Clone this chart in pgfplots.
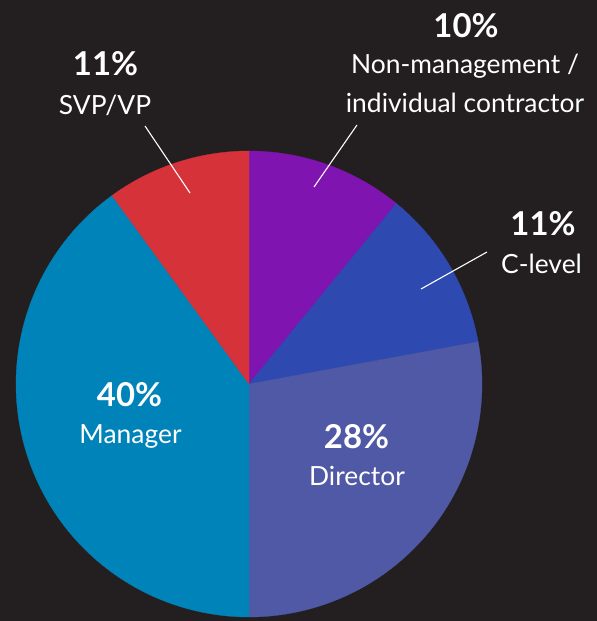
\documentclass[border=0pt]{standalone}
\usepackage{fontspec}
\setmainfont{Lato}
\usepackage{pgfplots}
\usepackage{pgfplotstable}
\pgfplotsset{compat=1.18}

\definecolor{bg}{HTML}{231F20}
\definecolor{cNon}{HTML}{7F14B0}
\definecolor{cClev}{HTML}{2E4AB0}
\definecolor{cDir}{HTML}{5059A6}
\definecolor{cMan}{HTML}{0083B9}
\definecolor{cSvp}{HTML}{D6323A}

% share of the circle, clockwise from 12 o'clock
\pgfplotstableread{
share color
10.9 cNon
11.2 cClev
27.9 cDir
40.0 cMan
10.0 cSvp
}\piedata
\pgfplotstablegetrowsof{\piedata}
\pgfmathtruncatemacro\lastrow{\pgfplotsretval-1}

\newcommand\pct[1]{\fontsize{33}{36}\selectfont\bfseries #1}
\newcommand\lbl{\fontsize{26.5}{30}\selectfont}

\begin{document}
\begin{tikzpicture}
\begin{axis}[
    width=597bp, height=621bp,
    scale only axis,
    xmin=0, xmax=597, ymin=0, ymax=621,
    y dir=reverse,
    axis lines=none,
    xtick=\empty, ytick=\empty,
    axis background/.style={fill=bg},
    clip=false,
]
\xdef\acc{0}
\foreach \i in {0,...,\lastrow}{
  \pgfplotstablegetelem{\i}{share}\of\piedata \let\s\pgfplotsretval
  \pgfplotstablegetelem{\i}{color}\of\piedata \let\c\pgfplotsretval
  \pgfmathsetmacro\a{3.6*\acc}
  \pgfmathsetmacro\b{3.6*(\acc+\s)}
  \edef\temp{\noexpand\addplot[draw=\c, line width=0.3pt, fill=\c, domain=\a:\b, samples=90]
    ({249+233*sin(x)},{384-233*cos(x)}) -- (axis cs:249,384) -- cycle;}
  \temp
  \pgfmathsetmacro\newacc{\acc+\s}
  \xdef\acc{\newacc}
}

% leader lines
\addplot[white, line width=1.1pt] coordinates {(314,187) (357,125)};
\addplot[white, line width=1.1pt] coordinates {(421,289) (487,252)};
\addplot[white, line width=1.1pt] coordinates {(145,126) (190,193)};

\node[white, anchor=base] at (axis cs:466,38) {\pct{10\%}};
\node[white, anchor=base] at (axis cs:465,74) {\lbl Non-management /};
\node[white, anchor=base] at (axis cs:465,112) {\lbl individual contractor};
\node[white, anchor=base] at (axis cs:105.5,76) {\pct{11\%}};
\node[white, anchor=base] at (axis cs:105,114) {\lbl SVP/VP};
\node[white, anchor=base] at (axis cs:543,235.5) {\pct{11\%}};
\node[white, anchor=base] at (axis cs:541.5,273) {\lbl C-level};
\node[white, anchor=base] at (axis cs:129.5,406) {\pct{40\%}};
\node[white, anchor=base] at (axis cs:130.5,443.5) {\lbl Manager};
\node[white, anchor=base] at (axis cs:356.5,448) {\pct{28\%}};
\node[white, anchor=base] at (axis cs:357,485) {\lbl Director};
\end{axis}
\end{tikzpicture}
\end{document}
